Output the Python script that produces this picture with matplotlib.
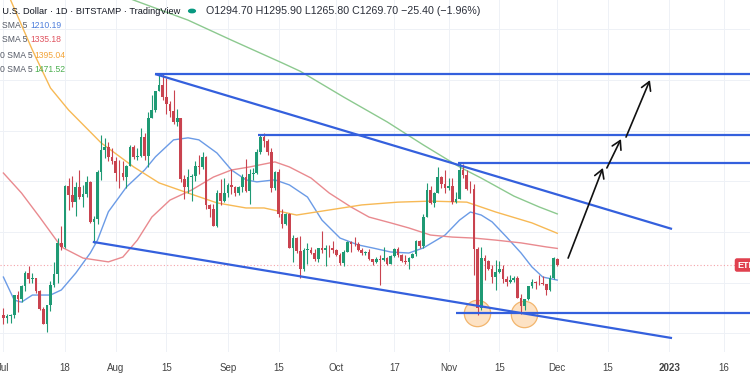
import numpy as np
import pandas as pd
import matplotlib
matplotlib.use("Agg")
import matplotlib.pyplot as plt

# ETH/USD daily candles, 2022-07-01 .. 2022-12-01
start = pd.Timestamp("2022-07-01")

opens = [1071, 1059, 1067, 1074, 1150, 1134, 1186, 1238, 1216, 1217, 1168, 1097, 1038, 1113, 1191, 1233,
         1355, 1340, 1580, 1545, 1520, 1577, 1537, 1549, 1598, 1440, 1450, 1636, 1724, 1737, 1696,
         1679, 1633, 1632, 1617, 1662, 1734, 1695, 1701, 1775, 1702, 1852, 1880, 1958, 1982, 1935, 1904,
         1877, 1834, 1849, 1611, 1577, 1619, 1623, 1662, 1657, 1695, 1507, 1490, 1425, 1554, 1524,
         1554, 1586, 1577, 1556, 1577, 1618, 1562, 1629, 1635, 1718, 1776, 1761, 1715, 1573, 1637, 1472,
         1432, 1471, 1335, 1377, 1324, 1253, 1328, 1328, 1316, 1294, 1335, 1329, 1337, 1335,
         1328, 1311, 1276, 1323, 1361, 1352, 1351, 1330, 1316, 1322, 1292, 1280, 1294, 1288, 1297, 1275,
         1306, 1331, 1311, 1287, 1283, 1299, 1314, 1364, 1345, 1461, 1565, 1514, 1555, 1619, 1590,
         1573, 1580, 1519, 1530, 1645, 1627, 1571, 1568, 1333, 1100, 1299, 1287, 1255, 1221, 1242, 1253,
         1215, 1201, 1212, 1218, 1141, 1108, 1134, 1185, 1203, 1200, 1197, 1194, 1170, 1218,
         1294.7]
highs = [1101, 1077, 1078, 1152, 1168, 1192, 1244, 1266, 1237, 1220, 1170, 1102, 1113, 1206, 1282, 1375,
         1425, 1587, 1615, 1620, 1596, 1645, 1587, 1620, 1600, 1465, 1646, 1785, 1770, 1756, 1730,
         1697, 1683, 1679, 1664, 1744, 1745, 1730, 1810, 1790, 1874, 1942, 1958, 2020, 2030, 2010, 1918,
         1960, 1885, 1850, 1627, 1650, 1630, 1680, 1705, 1715, 1702, 1510, 1509, 1565, 1610, 1612,
         1595, 1650, 1583, 1580, 1630, 1687, 1650, 1652, 1728, 1785, 1790, 1767, 1730, 1640, 1650, 1490,
         1475, 1475, 1390, 1382, 1385, 1337, 1358, 1340, 1332, 1338, 1403, 1350, 1350, 1364,
         1331, 1318, 1329, 1366, 1365, 1380, 1359, 1335, 1324, 1332, 1295, 1300, 1310, 1340, 1300, 1310,
         1335, 1340, 1313, 1310, 1303, 1318, 1370, 1370, 1470, 1592, 1580, 1560, 1655, 1623, 1643,
         1615, 1615, 1560, 1675, 1667, 1645, 1600, 1590, 1340, 1340, 1310, 1289, 1270, 1290, 1285, 1270,
         1225, 1230, 1227, 1225, 1155, 1135, 1185, 1215, 1208, 1230, 1225, 1195, 1230, 1300,
         1295.9]
lows = [1036, 1042, 1041, 1059, 1085, 1123, 1168, 1198, 1200, 1159, 1093, 1036, 1006, 1087, 1183, 1197,
        1329, 1335, 1485, 1500, 1462, 1532, 1500, 1540, 1437, 1355, 1432, 1605, 1692, 1679, 1670,
        1600, 1572, 1607, 1575, 1660, 1690, 1685, 1698, 1684, 1656, 1851, 1873, 1957, 1921, 1865, 1853,
        1825, 1820, 1598, 1530, 1555, 1521, 1600, 1630, 1650, 1490, 1458, 1425, 1421, 1505, 1520,
        1540, 1550, 1542, 1546, 1557, 1557, 1510, 1607, 1630, 1707, 1737, 1705, 1560, 1565, 1460, 1415,
        1428, 1335, 1283, 1316, 1220, 1245, 1275, 1313, 1285, 1282, 1318, 1265, 1300, 1318,
        1305, 1271, 1265, 1320, 1323, 1345, 1324, 1310, 1310, 1288, 1268, 1277, 1190, 1286, 1270, 1275,
        1301, 1300, 1282, 1273, 1255, 1296, 1306, 1335, 1337, 1458, 1510, 1500, 1553, 1575, 1555,
        1567, 1510, 1515, 1530, 1615, 1566, 1555, 1230, 1073, 1093, 1210, 1250, 1200, 1170, 1237, 1198,
        1188, 1197, 1202, 1140, 1075, 1093, 1130, 1180, 1175, 1190, 1190, 1150, 1165, 1215,
        1265.8]
closes = [1059, 1067, 1074, 1150, 1134, 1186, 1238, 1216, 1217, 1168, 1097, 1038, 1113, 1191, 1233, 1355,
          1340, 1580, 1545, 1520, 1577, 1537, 1549, 1598, 1440, 1450, 1636, 1724, 1737, 1696, 1679,
          1633, 1632, 1617, 1662, 1734, 1695, 1701, 1775, 1702, 1852, 1880, 1958, 1982, 1935, 1904, 1877,
          1834, 1849, 1611, 1577, 1619, 1623, 1662, 1657, 1695, 1507, 1490, 1425, 1554, 1524, 1554,
          1586, 1577, 1556, 1577, 1618, 1562, 1629, 1635, 1718, 1776, 1761, 1715, 1573, 1637, 1472, 1432,
          1471, 1335, 1377, 1324, 1253, 1328, 1328, 1316, 1294, 1335, 1329, 1337, 1335, 1328,
          1311, 1276, 1323, 1361, 1352, 1351, 1330, 1316, 1322, 1292, 1280, 1294, 1288, 1297, 1275, 1306,
          1331, 1311, 1287, 1283, 1299, 1314, 1364, 1345, 1461, 1565, 1514, 1555, 1619, 1590, 1573,
          1580, 1519, 1530, 1645, 1627, 1571, 1568, 1333, 1100, 1299, 1287, 1255, 1221, 1242, 1253, 1215,
          1201, 1212, 1218, 1141, 1108, 1134, 1185, 1203, 1200, 1197, 1194, 1170, 1218, 1296,
          1269.7]

# moving averages (day offset from Jul 1, value)
sma20_days = [0, 3, 5, 8, 13, 16, 20, 24, 26, 29, 34, 39, 42, 47, 51, 54, 59, 63, 67, 70, 75, 79, 84, 88,
              93, 98, 102, 107, 112, 116, 122, 126, 129, 132, 135, 139, 143, 146, 149, 153]
sma20_vals = [1222, 1131, 1123, 1151, 1151, 1171, 1238, 1317, 1368, 1480, 1578, 1645, 1697, 1764, 1772,
              1764, 1712, 1645, 1606, 1598, 1606, 1586, 1538, 1447, 1376, 1349, 1337, 1321, 1317, 1337,
              1388, 1447, 1479, 1467, 1440, 1380, 1317, 1262, 1222, 1210.19]
sma50_days = [0, 5, 10, 16, 22, 29, 33, 37, 41, 46, 52, 58, 63, 68, 75, 79, 85, 90, 96, 101, 107, 112,
              118, 124, 130, 136, 143, 150, 153]
sma50_vals = [1633, 1554, 1459, 1341, 1297, 1282, 1301, 1368, 1459, 1526, 1566, 1617, 1645, 1657, 1677,
              1657, 1613, 1554, 1499, 1459, 1436, 1416, 1388, 1380, 1376, 1368, 1357, 1341, 1335.18]
sma100_days = [0, 2, 8, 13, 18, 27, 36, 43, 51, 59, 67, 72, 81, 90, 99, 109, 118, 128, 136, 146, 153]
sma100_vals = [2400, 2316, 2119, 1969, 1882, 1752, 1657, 1594, 1554, 1515, 1495, 1495, 1467, 1487, 1507,
               1518, 1522, 1518, 1479, 1436, 1395.04]
sma200_days = [30, 36, 51, 63, 77, 82, 94, 106, 116, 126, 132, 141, 148, 153]
sma200_vals = [2350, 2316, 2237, 2158, 2068, 2035, 1933, 1835, 1744, 1657, 1613, 1542, 1499, 1471.52]

# drawn trend lines: (day0, price0, day1, price1)
trend_lines = [(41.9, 2024, 206.3, 2024),
               (41.9, 2024, 184.7, 1412),
               (70.3, 1783, 206.3, 1783),
               (125.6, 1673, 206.3, 1673),
               (24.7, 1361, 184.7, 981),
               (125.0, 1080, 206.3, 1080)]
# projected arrows: (day0, price0, day1, price1)
arrows = [(156.0, 1297, 165.6, 1653),
          (166.7, 1653, 170.6, 1767),
          (172.0, 1775, 178.6, 2000)]
# double-bottom marks
circle_days = [130.8, 143.8]
circle_prices = [1080, 1076]

tick_dates = ["2022-07-01", "2022-07-18", "2022-08-01", "2022-08-15", "2022-09-01", "2022-09-15",
              "2022-10-01", "2022-10-17", "2022-11-01", "2022-11-15", "2022-12-01", "2022-12-15",
              "2023-01-01", "2023-01-16"]
tick_labels = ["Jul", "18", "Aug", "15", "Sep", "15", "Oct", "17", "Nov", "15", "Dec", "15", "2023", "16"]

plt.rcParams['font.family'] = ['Liberation Sans', 'DejaVu Sans']

W, H = 750, 375
fig = plt.figure(figsize=(7.5, 3.75), dpi=100)
ax = fig.add_axes([0, 23 / H, 1, 352 / H])
ax.set_xlim(-0.94, 206.24)
ax.set_ylim(926, 2316.5)
for s in ax.spines.values():
    s.set_visible(False)

days = np.arange(len(closes))
o = np.array(opens); h = np.array(highs); l = np.array(lows); c = np.array(closes)
up = c >= o
green, red = '#1f9a74', '#c9434f'
colors = np.where(up, green, red)

# grid
tick_days = [(pd.Timestamp(t) - start).days for t in tick_dates]
for td in tick_days:
    ax.axvline(td, color='#eef1f6', lw=0.7, zorder=0)
for p in range(1000, 2400, 200):
    ax.axhline(p, color='#eef1f6', lw=0.7, zorder=0)

# double bottom circles
ax.scatter(circle_days, circle_prices, s=360, facecolor='#fde2c4', edgecolor='#f2b56d',
           linewidth=0.9, zorder=1)

# candles
ax.vlines(days, l, h, colors=colors, lw=0.8, zorder=3)
body = np.maximum(np.abs(c - o), 3)
ax.bar(days, body, bottom=np.minimum(o, c), width=0.74, color=colors, zorder=4)

# moving averages
ax.plot(sma20_days, sma20_vals, color='#6b9be6', lw=1.0, zorder=2)
ax.plot(sma50_days, sma50_vals, color='#e98a8f', lw=1.0, zorder=2)
ax.plot(sma100_days, sma100_vals, color='#f7b955', lw=1.0, zorder=2)
ax.plot(sma200_days, sma200_vals, color='#8cc98f', lw=1.0, zorder=2)

# last price line
ax.axhline(closes[-1], color='#f4a1a8', lw=0.8, ls=(0, (1, 2)), zorder=1)

# trend lines
for d0, p0, d1, p1 in trend_lines:
    ax.plot([d0, d1], [p0, p1], color='#3460dd', lw=1.6, zorder=5, solid_capstyle='butt')

# arrows
for d0, p0, d1, p1 in arrows:
    ax.annotate('', xy=(d1, p1), xytext=(d0, p0),
                arrowprops=dict(arrowstyle='->,head_length=0.6,head_width=0.35',
                                color='#111111', lw=1.2, shrinkA=0, shrinkB=0), zorder=6)

ax.set_xticks(tick_days)
ax.set_xticklabels(tick_labels)
ax.set_yticks([])
ax.tick_params(axis='x', length=0, pad=8, labelsize=7, labelcolor='#444444')
for lab in ax.get_xticklabels():
    if lab.get_text() == '2023':
        lab.set_fontweight('bold')


def fx(x):
    return x / W


def fy(y):
    return 1 - y / H


# header
fig.text(fx(-3), fy(11), "/ U.S. Dollar · 1D · BITSTAMP · TradingView", fontsize=6.7,
         color='#131722', va='center', ha='left')
fig.patches.append(plt.Circle((fx(192), fy(11)), 0.0045, transform=fig.transFigure,
                              color='#089981', zorder=5))
fig.text(fx(206), fy(11), "O1294.70 H1295.90 L1265.80 C1269.70 −25.40 (−1.96%)", fontsize=7.7,
         color='#2a2e39', va='center', ha='left')

legend_rows = [("SMA 5", 2, "1210.19", 30, '#4f7fdc', 25),
               ("SMA 5", 2, "1335.18", 30, '#e0535f', 40),
               ("0 SMA 5", 0, "1395.04", 34, '#f3a53a', 55),
               ("0 SMA 5", 0, "1471.52", 34, '#4caf50', 70)]
for lab, lx, val, vx, col, ly in legend_rows:
    fig.text(fx(lx), fy(ly), lab, fontsize=6.2, color='#555a66', va='center', ha='left')
    fig.text(fx(vx), fy(ly), val, fontsize=6.2, color=col, va='center', ha='left')

# price tag on right edge
fig.text(fx(737), fy(265), "ETHUSD", fontsize=6.5, color='white', va='center', ha='left',
         fontweight='bold',
         bbox=dict(boxstyle='round,pad=0.25', fc='#e0414f', ec='none'))

fig.savefig("out.png", dpi=100)
